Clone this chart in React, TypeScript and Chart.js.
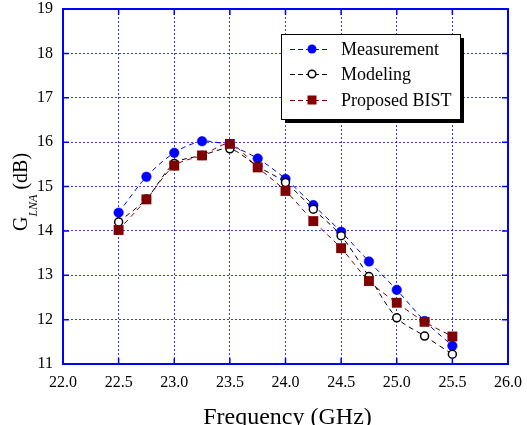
import React, { useEffect, useRef } from "react";
import { Chart, registerables } from "chart.js";

Chart.register(...registerables);

const frequency = [22.5, 22.75, 23.0, 23.25, 23.5, 23.75, 24.0, 24.25, 24.5, 24.75, 25.0, 25.25, 25.5];
const measurement = [14.41, 15.22, 15.76, 16.02, 15.92, 15.63, 15.17, 14.58, 13.98, 13.31, 12.67, 11.97, 11.41];
const modeling = [14.2, 14.72, 15.52, 15.7, 15.85, 15.45, 15.09, 14.49, 13.89, 12.97, 12.04, 11.63, 11.22];
const proposedBist = [14.02, 14.71, 15.47, 15.7, 15.96, 15.43, 14.9, 14.22, 13.61, 12.87, 12.38, 11.95, 11.62];
const seriesNames = ["Measurement", "Modeling", "Proposed BIST"];
const xTitle = "Frequency (GHz)";
const yTitleMain = "G";
const yTitleSub = "LNA";
const yTitleUnit = " (dB)";

const SERIF = "'Liberation Serif', 'Times New Roman', serif";
const BLUE = "#0000ff";
const MAROON = "#800000";

const toPts = (ys: number[]) => frequency.map((x, i) => ({ x, y: ys[i] }));

const decorPlugin = {
  id: "decor",
  afterDraw(chart: any) {
    const ctx = chart.ctx as CanvasRenderingContext2D;
    const a = chart.chartArea;
    const xs = chart.scales.x;
    const ys = chart.scales.y;
    ctx.save();
    ctx.setLineDash([]);
    ctx.strokeStyle = BLUE;
    ctx.lineWidth = 2;
    ctx.strokeRect(a.left, a.top, a.right - a.left, a.bottom - a.top);
    ctx.lineWidth = 1.5;
    ctx.beginPath();
    ys.ticks.forEach((t: any) => {
      const y = ys.getPixelForValue(t.value);
      ctx.moveTo(a.left, y);
      ctx.lineTo(a.left + 6, y);
      ctx.moveTo(a.right, y);
      ctx.lineTo(a.right - 6, y);
    });
    xs.ticks.forEach((t: any) => {
      const x = xs.getPixelForValue(t.value);
      ctx.moveTo(x, a.bottom);
      ctx.lineTo(x, a.bottom - 6);
      ctx.moveTo(x, a.top);
      ctx.lineTo(x, a.top + 6);
    });
    ctx.stroke();

    ctx.fillStyle = "#000";
    ctx.font = `24px ${SERIF}`;
    ctx.textAlign = "center";
    ctx.textBaseline = "alphabetic";
    ctx.fillText(xTitle, (a.left + a.right) / 2 + 2, 424);

    ctx.save();
    ctx.translate(27, 231);
    ctx.rotate(-Math.PI / 2);
    ctx.textAlign = "left";
    ctx.font = `20px ${SERIF}`;
    ctx.fillText(yTitleMain, 0, 0);
    let off = ctx.measureText(yTitleMain).width;
    ctx.font = `italic 12px ${SERIF}`;
    ctx.fillText(yTitleSub, off, 10);
    off += ctx.measureText(yTitleSub).width;
    ctx.font = `20px ${SERIF}`;
    ctx.fillText(yTitleUnit, off, 0);
    ctx.restore();

    const bx = 281, by = 34, bw = 179, bh = 85;
    ctx.fillStyle = "#000";
    ctx.fillRect(bx + 4, by + 4, bw, bh);
    ctx.fillStyle = "#fff";
    ctx.fillRect(bx, by, bw, bh);
    ctx.strokeStyle = "#000";
    ctx.lineWidth = 1;
    ctx.strokeRect(bx + 0.5, by + 0.5, bw, bh);
    const rows = [49, 74, 100];
    const lineCols = [BLUE, "#000", MAROON];
    rows.forEach((ry, i) => {
      ctx.strokeStyle = lineCols[i];
      ctx.lineWidth = 1;
      ctx.setLineDash([5, 3]);
      ctx.beginPath();
      ctx.moveTo(290, ry + 0.5);
      ctx.lineTo(327, ry + 0.5);
      ctx.stroke();
      ctx.setLineDash([]);
      const mx = 312;
      if (i === 0) {
        ctx.fillStyle = BLUE;
        ctx.beginPath();
        ctx.arc(mx, ry, 4.5, 0, Math.PI * 2);
        ctx.fill();
      } else if (i === 1) {
        ctx.fillStyle = "#fff";
        ctx.strokeStyle = "#000";
        ctx.lineWidth = 1.5;
        ctx.beginPath();
        ctx.arc(mx, ry, 3.8, 0, Math.PI * 2);
        ctx.fill();
        ctx.stroke();
      } else {
        ctx.fillStyle = MAROON;
        ctx.fillRect(mx - 4.5, ry - 4.5, 9, 9);
      }
      ctx.fillStyle = "#000";
      ctx.font = `18px ${SERIF}`;
      ctx.textAlign = "left";
      ctx.textBaseline = "middle";
      ctx.fillText(seriesNames[i], 341, ry + 1);
    });
    ctx.restore();
  },
};

const zeroPad = (s: any) => {
  s.paddingTop = 0;
  s.paddingBottom = 0;
  s.paddingLeft = 0;
  s.paddingRight = 0;
};

export default function App() {
  const ref = useRef<HTMLCanvasElement | null>(null);
  useEffect(() => {
    if (!ref.current) return;
    const chart = new Chart(ref.current, {
      type: "line",
      data: {
        datasets: [
          {
            label: seriesNames[0],
            data: toPts(measurement),
            borderColor: BLUE,
            backgroundColor: BLUE,
            pointBackgroundColor: BLUE,
            pointBorderColor: BLUE,
            pointRadius: 4.8,
            pointBorderWidth: 0.5,
            borderWidth: 1,
            borderDash: [5, 4],
            tension: 0.3,
            order: 3,
          },
          {
            label: seriesNames[1],
            data: toPts(modeling),
            borderColor: "#000",
            backgroundColor: "#fff",
            pointBackgroundColor: "#fff",
            pointBorderColor: "#000",
            pointRadius: 4,
            pointBorderWidth: 1.5,
            borderWidth: 1,
            borderDash: [5, 4],
            tension: 0.3,
            order: 2,
          },
          {
            label: seriesNames[2],
            data: toPts(proposedBist),
            borderColor: MAROON,
            backgroundColor: MAROON,
            pointBackgroundColor: MAROON,
            pointBorderColor: MAROON,
            pointStyle: "rect",
            pointRadius: 7,
            pointBorderWidth: 0,
            borderWidth: 1,
            borderDash: [5, 4],
            tension: 0.3,
            order: 1,
          },
        ],
      },
      options: {
        animation: false,
        responsive: false,
        devicePixelRatio: 1,
        layout: { padding: { top: 9, right: 19, left: 0, bottom: 0 } },
        plugins: { legend: { display: false }, tooltip: { enabled: false } },
        scales: {
          x: {
            type: "linear",
            min: 22,
            max: 26,
            ticks: {
              stepSize: 0.5,
              color: "#000",
              font: { family: SERIF, size: 16 },
              padding: 9,
              callback: (v: any) => Number(v).toFixed(1),
            },
            grid: { color: "rgba(20,20,255,0.85)", lineWidth: 1, drawTicks: false },
            border: { display: false, dash: [2, 2] },
            afterFit: (s: any) => {
              s.height = 61;
              zeroPad(s);
            },
          },
          y: {
            type: "linear",
            min: 11,
            max: 19,
            ticks: {
              stepSize: 1,
              color: "#000",
              font: { family: SERIF, size: 16 },
              padding: 10,
            },
            grid: { color: "rgba(20,20,255,0.85)", lineWidth: 1, drawTicks: false },
            border: { display: false, dash: [2, 2] },
            afterFit: (s: any) => {
              s.width = 63;
              zeroPad(s);
            },
          },
        },
      },
      plugins: [decorPlugin],
    });
    return () => chart.destroy();
  }, []);
  return (
    <div style={{ position: "fixed", left: 0, top: 0, width: 527, height: 425, background: "#fff" }}>
      <canvas ref={ref} width={527} height={425} style={{ width: 527, height: 425 }} />
    </div>
  );
}
